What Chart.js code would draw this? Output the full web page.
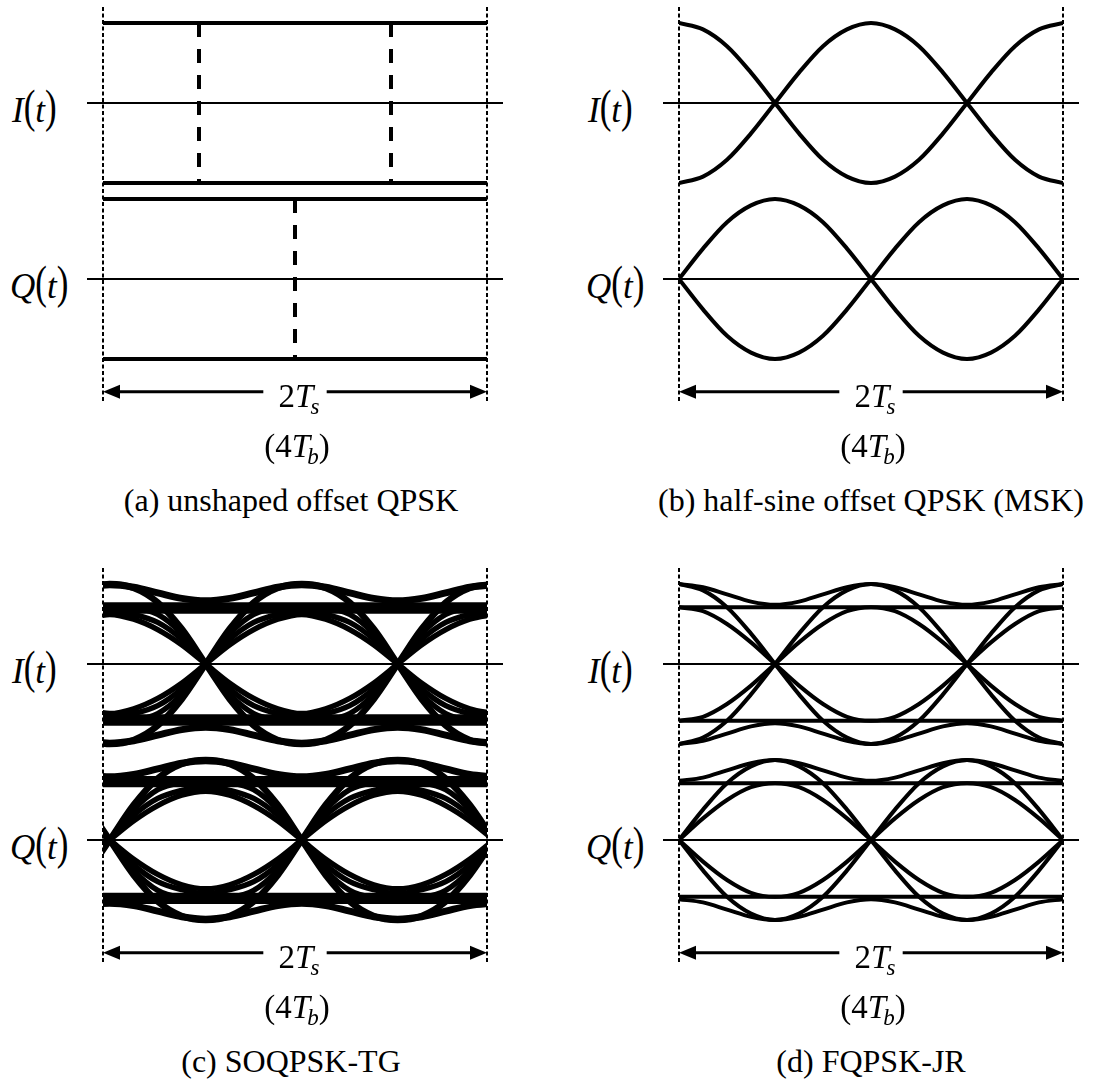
<!DOCTYPE html>
<html>
<head>
<meta charset="utf-8">
<script src="https://cdn.jsdelivr.net/npm/chart.js@4.4.1/dist/chart.umd.min.js"></script>
<style>
  html, body { margin: 0; padding: 0; background: #fff; }
  body { width: 1098px; height: 1083px; position: relative; overflow: hidden; color: #000; }
  canvas { position: absolute; }
  .txt { position: absolute; line-height: 1; white-space: nowrap;
         font-family: 'Liberation Serif', 'Tinos', 'DejaVu Serif', 'Times New Roman', serif; }
  .it { font-style: italic; }
  .par { display: inline-block; transform: translateY(-3px) scaleY(1.3); }
  .sub { font-size: 23px; line-height: 0; position: relative; top: 7px; margin-left: -3px; }
</style>
</head>
<body>
<canvas id="pa" width="416" height="396"></canvas>
<canvas id="pb" width="416" height="396"></canvas>
<canvas id="pc" width="416" height="396"></canvas>
<canvas id="pd" width="416" height="396"></canvas>
<script>
// time grids in bit periods Tb (window is 2Ts = 4Tb)
const tGrid = [0, 0.25, 0.5, 0.75, 1, 1.25, 1.5, 1.75, 2, 2.25, 2.5, 2.75, 3, 3.25, 3.5, 3.75, 4];
const tauGrid = [-0.25, 0, 0.25, 0.5, 0.75, 1, 1.25, 1.5, 1.75, 2, 2.25, 2.5, 2.75, 3, 3.25, 3.5, 3.75, 4];

// (a) unshaped offset QPSK
const aLevels = [1, -1];
const aSwitchI = [1, 3];
const aSwitchQ = [2];

// (b) half-sine offset QPSK (MSK)
const bIup = [1, 0.92, 0.71, 0.38, 0, -0.38, -0.71, -0.92, -1, -0.92, -0.71, -0.38, 0, 0.38, 0.71, 0.92, 1];
const bIdn = [-1, -0.92, -0.71, -0.38, 0, 0.38, 0.71, 0.92, 1, 0.92, 0.71, 0.38, 0, -0.38, -0.71, -0.92, -1];
const bQup = [0, 0.38, 0.71, 0.92, 1, 0.92, 0.71, 0.38, 0, -0.38, -0.71, -0.92, -1, -0.92, -0.71, -0.38, 0];
const bQdn = [0, -0.38, -0.71, -0.92, -1, -0.92, -0.71, -0.38, 0, 0.38, 0.71, 0.92, 1, 0.92, 0.71, 0.38, 0];

// (c) SOQPSK-TG (on tauGrid, eye is delayed ~0.07 Tb)
const cDelay = 0.07;
const cIoutUp = [0.95, 1, 0.95, 0.77, 0.44, 0, -0.44, -0.77, -0.95, -1, -0.95, -0.77, -0.44, 0, 0.44, 0.77, 0.95, 1];
const cIoutDn = [-0.95, -1, -0.95, -0.77, -0.44, 0, 0.44, 0.77, 0.95, 1, 0.95, 0.77, 0.44, 0, -0.44, -0.77, -0.95, -1];
const cImidUp = [0.7, 0.71, 0.7, 0.62, 0.38, 0, -0.38, -0.62, -0.7, -0.71, -0.7, -0.62, -0.38, 0, 0.38, 0.62, 0.7, 0.71];
const cImidDn = [-0.7, -0.71, -0.7, -0.62, -0.38, 0, 0.38, 0.62, 0.7, 0.71, 0.7, 0.62, 0.38, 0, -0.38, -0.62, -0.7, -0.71];
const cIin2Up = [0.62, 0.67, 0.62, 0.52, 0.31, 0, -0.31, -0.52, -0.62, -0.67, -0.62, -0.52, -0.31, 0, 0.31, 0.52, 0.62, 0.67];
const cIin2Dn = [-0.62, -0.67, -0.62, -0.52, -0.31, 0, 0.31, 0.52, 0.62, 0.67, 0.62, 0.52, 0.31, 0, -0.31, -0.52, -0.62, -0.67];
const cIinUp = [0.56, 0.62, 0.56, 0.43, 0.24, 0, -0.24, -0.43, -0.56, -0.62, -0.56, -0.43, -0.24, 0, 0.24, 0.43, 0.56, 0.62];
const cIinDn = [-0.56, -0.62, -0.56, -0.43, -0.24, 0, 0.24, 0.43, 0.56, 0.62, 0.56, 0.43, 0.24, 0, -0.24, -0.43, -0.56, -0.62];
const cIwigUp = [0.96, 0.99, 0.96, 0.89, 0.82, 0.79, 0.82, 0.89, 0.96, 0.99, 0.96, 0.89, 0.82, 0.79, 0.82, 0.89, 0.96, 0.99];
const cIwigDn = [-0.96, -0.99, -0.96, -0.89, -0.82, -0.79, -0.82, -0.89, -0.96, -0.99, -0.96, -0.89, -0.82, -0.79, -0.82, -0.89, -0.96, -0.99];
const cIband = [0.74, 0.7, 0.66, -0.66, -0.7, -0.74];
const cQoutUp = [-0.44, 0, 0.44, 0.77, 0.95, 1, 0.95, 0.77, 0.44, 0, -0.44, -0.77, -0.95, -1, -0.95, -0.77, -0.44, 0];
const cQoutDn = [0.44, 0, -0.44, -0.77, -0.95, -1, -0.95, -0.77, -0.44, 0, 0.44, 0.77, 0.95, 1, 0.95, 0.77, 0.44, 0];
const cQmidUp = [-0.38, 0, 0.38, 0.63, 0.72, 0.74, 0.72, 0.63, 0.38, 0, -0.38, -0.63, -0.72, -0.74, -0.72, -0.63, -0.38, 0];
const cQmidDn = [0.38, 0, -0.38, -0.63, -0.72, -0.74, -0.72, -0.63, -0.38, 0, 0.38, 0.63, 0.72, 0.74, 0.72, 0.63, 0.38, 0];
const cQin2Up = [-0.31, 0, 0.31, 0.52, 0.62, 0.67, 0.62, 0.52, 0.31, 0, -0.31, -0.52, -0.62, -0.67, -0.62, -0.52, -0.31, 0];
const cQin2Dn = [0.31, 0, -0.31, -0.52, -0.62, -0.67, -0.62, -0.52, -0.31, 0, 0.31, 0.52, 0.62, 0.67, 0.62, 0.52, 0.31, 0];
const cQinUp = [-0.24, 0, 0.24, 0.43, 0.56, 0.61, 0.56, 0.43, 0.24, 0, -0.24, -0.43, -0.56, -0.61, -0.56, -0.43, -0.24, 0];
const cQinDn = [0.24, 0, -0.24, -0.43, -0.56, -0.61, -0.56, -0.43, -0.24, 0, 0.24, 0.43, 0.56, 0.61, 0.56, 0.43, 0.24, 0];
const cQwigUp = [0.82, 0.79, 0.82, 0.89, 0.96, 0.99, 0.96, 0.89, 0.82, 0.79, 0.82, 0.89, 0.96, 0.99, 0.96, 0.89, 0.82, 0.79];
const cQwigDn = [-0.82, -0.79, -0.82, -0.89, -0.96, -0.99, -0.96, -0.89, -0.82, -0.79, -0.82, -0.89, -0.96, -0.99, -0.96, -0.89, -0.82, -0.79];
const cQband = [0.77, 0.73, 0.69, -0.69, -0.73, -0.77];

// (d) FQPSK-JR
const dIlevel = [0.71, -0.71];
const dIoutUp = [1, 0.92, 0.71, 0.38, 0, -0.38, -0.71, -0.92, -1, -0.92, -0.71, -0.38, 0, 0.38, 0.71, 0.92, 1];
const dIoutDn = [-1, -0.92, -0.71, -0.38, 0, 0.38, 0.71, 0.92, 1, 0.92, 0.71, 0.38, 0, -0.38, -0.71, -0.92, -1];
const dIinUp = [0.71, 0.66, 0.5, 0.27, 0, -0.27, -0.5, -0.66, -0.71, -0.66, -0.5, -0.27, 0, 0.27, 0.5, 0.66, 0.71];
const dIinDn = [-0.71, -0.66, -0.5, -0.27, 0, 0.27, 0.5, 0.66, 0.71, 0.66, 0.5, 0.27, 0, -0.27, -0.5, -0.66, -0.71];
const dIwigUp = [1, 0.96, 0.87, 0.78, 0.74, 0.78, 0.87, 0.96, 1, 0.96, 0.87, 0.78, 0.74, 0.78, 0.87, 0.96, 1];
const dIwigDn = [-1, -0.96, -0.87, -0.78, -0.74, -0.78, -0.87, -0.96, -1, -0.96, -0.87, -0.78, -0.74, -0.78, -0.87, -0.96, -1];
const dQlevel = [0.71, -0.71];
const dQoutUp = [0, 0.38, 0.71, 0.92, 1, 0.92, 0.71, 0.38, 0, -0.38, -0.71, -0.92, -1, -0.92, -0.71, -0.38, 0];
const dQoutDn = [0, -0.38, -0.71, -0.92, -1, -0.92, -0.71, -0.38, 0, 0.38, 0.71, 0.92, 1, 0.92, 0.71, 0.38, 0];
const dQinUp = [0, 0.27, 0.5, 0.66, 0.71, 0.66, 0.5, 0.27, 0, -0.27, -0.5, -0.66, -0.71, -0.66, -0.5, -0.27, 0];
const dQinDn = [0, -0.27, -0.5, -0.66, -0.71, -0.66, -0.5, -0.27, 0, 0.27, 0.5, 0.66, 0.71, 0.66, 0.5, 0.27, 0];
const dQwigUp = [0.74, 0.78, 0.87, 0.96, 1, 0.96, 0.87, 0.78, 0.74, 0.78, 0.87, 0.96, 1, 0.96, 0.87, 0.78, 0.74];
const dQwigDn = [-0.74, -0.78, -0.87, -0.96, -1, -0.96, -0.87, -0.78, -0.74, -0.78, -0.87, -0.96, -1, -0.96, -0.87, -0.78, -0.74];

// ---- layout ----
const T0 = tGrid[0], T1 = tGrid[tGrid.length - 1];
const PX_PER_TB = 96;
const OVER = 16 / PX_PER_TB;            // axis lines stick out past the dotted lines
const X_MIN = T0 - OVER, X_MAX = T1 + OVER;
const SCALE_I = { min: -3.75, max: 1.2 };
const SCALE_Q = { min: -1.55, max: 3.4 };
const ARROW_Y = -1.41;                  // on the Q scale
const GAP = [1.67, 2.33];               // hole in the arrow for the label

function line(pts, yAxis, width, extra) {
  return Object.assign({
    data: pts.map(p => ({ x: p[0], y: p[1] })),
    yAxisID: yAxis, xAxisID: 'x',
    borderColor: '#000', borderWidth: width, pointRadius: 0, fill: false
  }, extra || {});
}

function curve(xs, ys, yAxis, width, xAxis) {
  return {
    data: xs.map((x, i) => ({ x: x, y: ys[i] })),
    yAxisID: yAxis, xAxisID: xAxis || 'x',
    borderColor: '#000', borderWidth: width, pointRadius: 0, fill: false,
    cubicInterpolationMode: 'monotone',
    clip: { left: -16, right: -16, top: 10, bottom: 10 }
  };
}

function frame() {
  return [
    line([[X_MIN, 0], [X_MAX, 0]], 'yI', 2),
    line([[X_MIN, 0], [X_MAX, 0]], 'yQ', 2),
    line([[T0, SCALE_I.max], [T0, SCALE_I.min]], 'yI', 2, { borderDash: [4, 2.5] }),
    line([[T1, SCALE_I.max], [T1, SCALE_I.min]], 'yI', 2, { borderDash: [4, 2.5] }),
    line([[T0 + 0.12, ARROW_Y], [GAP[0], ARROW_Y]], 'yQ', 3),
    line([[GAP[1], ARROW_Y], [T1 - 0.12, ARROW_Y]], 'yQ', 3)
  ];
}

const arrowHeads = {
  id: 'arrowHeads',
  afterDatasetsDraw(chart) {
    const xs = chart.scales.x, ys = chart.scales.yQ, ctx = chart.ctx;
    const py = ys.getPixelForValue(ARROW_Y);
    ctx.save();
    ctx.fillStyle = '#000';
    [[T0, 1], [T1, -1]].forEach(([t, dir]) => {
      const px = xs.getPixelForValue(t);
      ctx.beginPath();
      ctx.moveTo(px, py);
      ctx.lineTo(px + dir * 17, py - 7);
      ctx.lineTo(px + dir * 17, py + 7);
      ctx.closePath();
      ctx.fill();
    });
    ctx.restore();
  }
};

function makePanel(id, left, top, datasets, shifted) {
  const cv = document.getElementById(id);
  cv.style.left = left + 'px';
  cv.style.top = top + 'px';
  const scales = {
    x: { type: 'linear', min: X_MIN, max: X_MAX, display: false },
    yI: { type: 'linear', min: SCALE_I.min, max: SCALE_I.max, display: false },
    yQ: { type: 'linear', min: SCALE_Q.min, max: SCALE_Q.max, display: false }
  };
  if (shifted) scales.xs = { type: 'linear', min: X_MIN - shifted, max: X_MAX - shifted, display: false };
  return new Chart(cv.getContext('2d'), {
    type: 'line',
    data: { datasets: frame().concat(datasets) },
    options: {
      responsive: false, animation: false, events: [],
      layout: { padding: 0 },
      plugins: { legend: { display: false }, tooltip: { enabled: false } },
      scales: scales
    },
    plugins: [arrowHeads]
  });
}

// (a)
const dsA = [];
aLevels.forEach(v => {
  dsA.push(line([[T0, v], [T1, v]], 'yI', 4));
  dsA.push(line([[T0, v], [T1, v]], 'yQ', 4));
});
aSwitchI.forEach(t => dsA.push(line([[t, aLevels[0]], [t, aLevels[1]]], 'yI', 4, { borderDash: [14, 12] })));
aSwitchQ.forEach(t => dsA.push(line([[t, aLevels[0]], [t, aLevels[1]]], 'yQ', 4, { borderDash: [14, 12] })));

// (b)
const dsB = [bIup, bIdn].map(v => curve(tGrid, v, 'yI', 4))
  .concat([bQup, bQdn].map(v => curve(tGrid, v, 'yQ', 4)));

// (c) many overlapping traces -> thick bundles
const dsC = [];
[cIoutUp, cIoutDn].forEach(v => dsC.push(curve(tauGrid, v, 'yI', 6.5, 'xs')));
[cImidUp, cImidDn, cIin2Up, cIin2Dn, cIinUp, cIinDn].forEach(v => dsC.push(curve(tauGrid, v, 'yI', 5.5, 'xs')));
[cIwigUp, cIwigDn].forEach(v => dsC.push(curve(tauGrid, v, 'yI', 7, 'xs')));
cIband.forEach(v => dsC.push(line([[T0, v], [T1, v]], 'yI', 5)));
[cQoutUp, cQoutDn].forEach(v => dsC.push(curve(tauGrid, v, 'yQ', 6.5, 'xs')));
[cQmidUp, cQmidDn, cQin2Up, cQin2Dn, cQinUp, cQinDn].forEach(v => dsC.push(curve(tauGrid, v, 'yQ', 5.5, 'xs')));
[cQwigUp, cQwigDn].forEach(v => dsC.push(curve(tauGrid, v, 'yQ', 7, 'xs')));
cQband.forEach(v => dsC.push(line([[T0, v], [T1, v]], 'yQ', 5)));

// (d)
const dsD = [];
[dIoutUp, dIoutDn, dIinUp, dIinDn, dIwigUp, dIwigDn].forEach(v => dsD.push(curve(tGrid, v, 'yI', 4)));
dIlevel.forEach(v => dsD.push(line([[T0, v], [T1, v]], 'yI', 4)));
[dQoutUp, dQoutDn, dQinUp, dQinDn, dQwigUp, dQwigDn].forEach(v => dsD.push(curve(tGrid, v, 'yQ', 4)));
dQlevel.forEach(v => dsD.push(line([[T0, v], [T1, v]], 'yQ', 4)));

const cols = [103, 679];     // dotted left edge of each column
const rows = [103, 664];     // I(t) axis of each row
makePanel('pa', cols[0] - 16, rows[0] - 96, dsA);
makePanel('pb', cols[1] - 16, rows[0] - 96, dsB);
makePanel('pc', cols[0] - 16, rows[1] - 96, dsC, cDelay);
makePanel('pd', cols[1] - 16, rows[1] - 96, dsD);

// ---- text ----
function addText(html, x, baseline, size, center) {
  const d = document.createElement('div');
  d.className = 'txt';
  d.style.fontSize = size + 'px';
  d.style.top = (baseline - 0.8375 * size) + 'px';
  d.style.left = x + 'px';
  if (center) d.style.transform = 'translateX(-50%)';
  d.innerHTML = html;
  document.body.appendChild(d);
}

const captions = [
  ['(a) unshaped offset QPSK', '(b) half-sine offset QPSK (MSK)'],
  ['(c) SOQPSK-TG', '(d) FQPSK-JR']
];
const labI = '<span class="it">I</span><span class="par">(</span><span class="it">t</span><span class="par">)</span>';
const labQ = '<span class="it">Q</span><span class="par">(</span><span class="it">t</span><span class="par">)</span>';
const lab2Ts = '2<span class="it">T</span><span class="sub it">s</span>';
const lab4Tb = '(4<span class="it">T</span><span class="sub it">b</span>)';

rows.forEach((ay, r) => {
  cols.forEach((dx, c) => {
    const mid = dx + (T1 - T0) * PX_PER_TB / 2;
    addText(labI, dx - 91, ay + 19, 35);
    addText(labQ, dx - 93, ay + 176 + 19, 35);
    addText(lab2Ts, mid + 4, ay + 305, 33, true);
    addText(lab4Tb, mid + 2, ay + 355, 33, true);
    addText(captions[r][c], mid - (c === 0 ? 4 : 0), ay + 408, 32, true);
  });
});
</script>
</body>
</html>
